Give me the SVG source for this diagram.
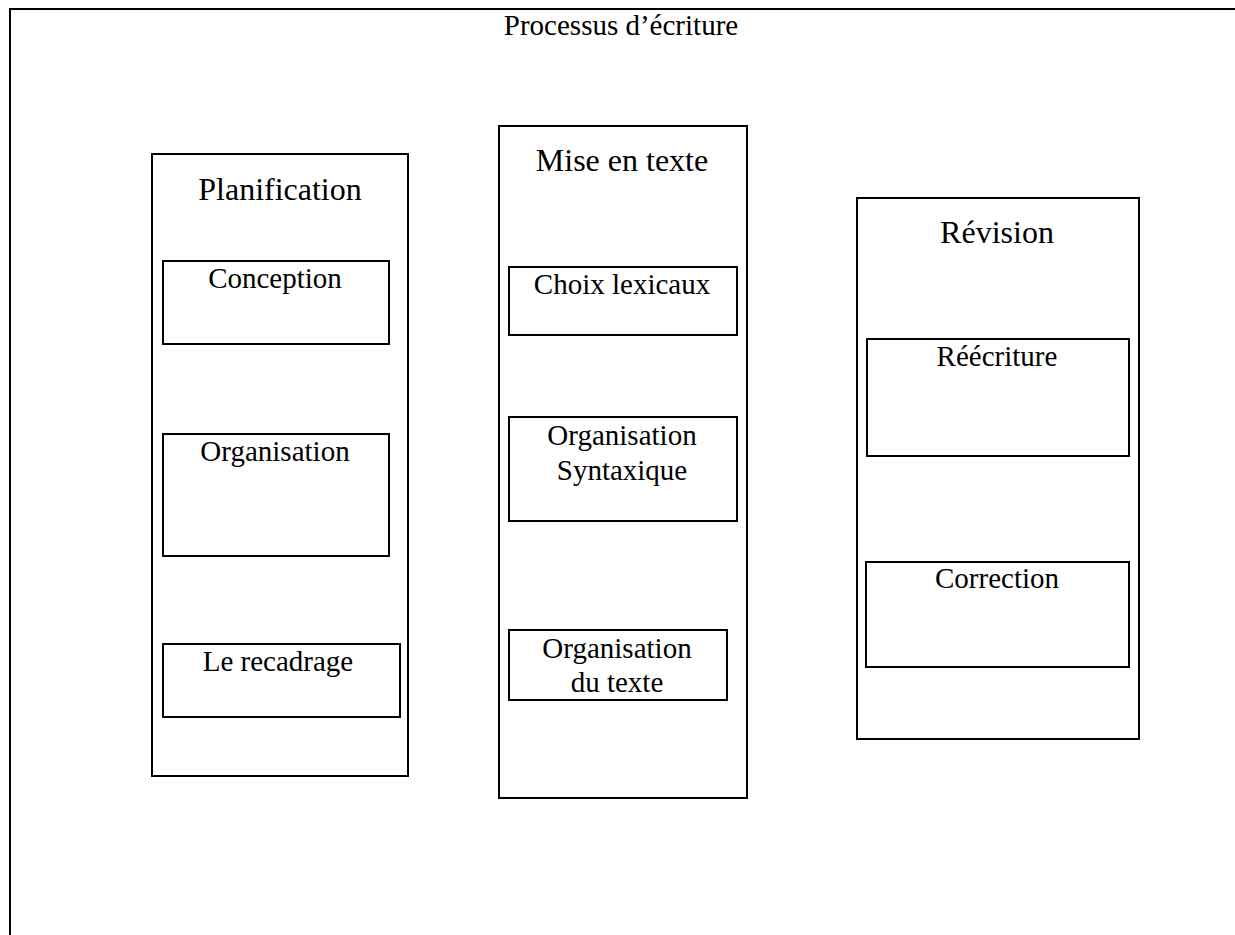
<svg xmlns="http://www.w3.org/2000/svg" width="1235" height="935" viewBox="0 0 1235 935">
<style>
  .box { fill: none; stroke: #000; stroke-width: 2; }
  .frame { fill: none; stroke: #000; stroke-width: 2; }
  text { font-family: "Liberation Serif", "Times New Roman", serif; fill: #000; text-anchor: middle; }
  .h { font-size: 32px; }
  .t { font-size: 29px; }
</style>
<rect width="1235" height="935" fill="#fff"/>
<g id="frame">
  <path class="frame" d="M10,935 V9 H1235"/>
  <text class="t" x="621" y="35">Processus d’écriture</text>
</g>
<g id="planification">
  <rect class="box" x="152" y="154" width="256" height="622"/>
  <text class="h" x="280" y="200">Planification</text>
</g>
<g id="conception">
  <rect class="box" x="163" y="261" width="226" height="83"/>
  <text class="t" x="275" y="288">Conception</text>
</g>
<g id="organisation">
  <rect class="box" x="163" y="434" width="226" height="122"/>
  <text class="t" x="275" y="461">Organisation</text>
</g>
<g id="recadrage">
  <rect class="box" x="163" y="644" width="237" height="73"/>
  <text class="t" x="278" y="671">Le recadrage</text>
</g>
<g id="mise-en-texte">
  <rect class="box" x="499" y="126" width="248" height="672"/>
  <text class="h" x="622" y="171">Mise en texte</text>
</g>
<g id="choix-lexicaux">
  <rect class="box" x="509" y="267" width="228" height="68"/>
  <text class="t" x="622" y="294">Choix lexicaux</text>
</g>
<g id="organisation-syntaxique">
  <rect class="box" x="509" y="417" width="228" height="104"/>
  <text class="t" x="622" y="445">Organisation</text>
  <text class="t" x="622" y="480">Syntaxique</text>
</g>
<g id="organisation-texte">
  <rect class="box" x="509" y="630" width="218" height="70"/>
  <text class="t" x="617" y="658">Organisation</text>
  <text class="t" x="617" y="692">du texte</text>
</g>
<g id="revision">
  <rect class="box" x="857" y="198" width="282" height="541"/>
  <text class="h" x="997" y="243">Révision</text>
</g>
<g id="reecriture">
  <rect class="box" x="867" y="339" width="262" height="117"/>
  <text class="t" x="997" y="366">Réécriture</text>
</g>
<g id="correction">
  <rect class="box" x="866" y="562" width="263" height="105"/>
  <text class="t" x="997" y="588">Correction</text>
</g>
<g id="connectors"></g>
</svg>
